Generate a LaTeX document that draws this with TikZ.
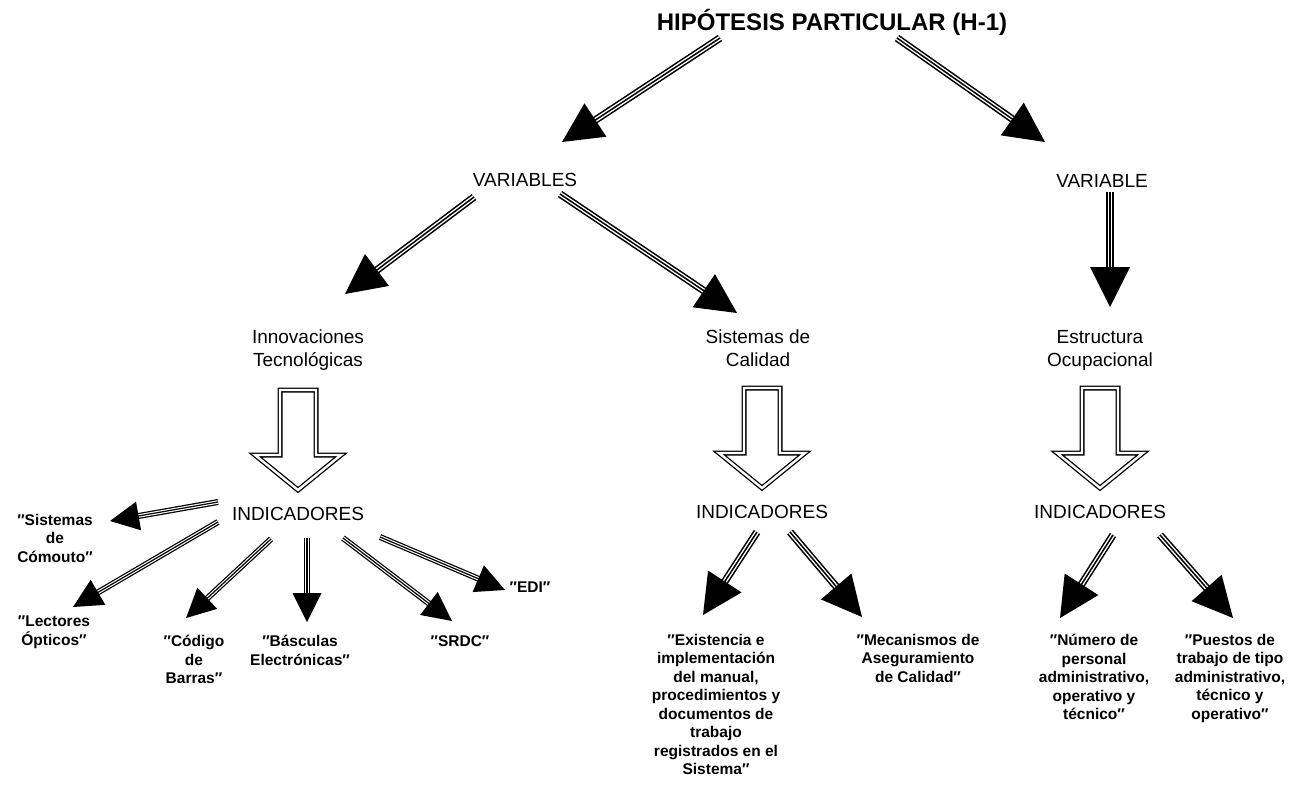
\documentclass[tikz,border=0pt]{standalone}
\usepackage{fontspec}
\setmainfont{Liberation Sans}
\usetikzlibrary{calc}

% triple-line arrow: start, tip, head size, shaft width
\newcommand\triarrow[4]{%
  \coordinate (hb) at ($(#2)!#3 pt!(#1)$);
  \coordinate (se) at ($(#2)!0.8*#3 pt!(#1)$);
  \draw[line width=#4 pt] (#1) -- (se);
  \draw[white, line width=0.58*#4 pt] (#1) -- (se);
  \draw[line width=0.2*#4 pt] (#1) -- (se);
  \fill (#2) -- ($(hb)!0.5*#3 pt!90:(#2)$) -- ($(hb)!0.5*#3 pt!-90:(#2)$) -- cycle;
}

% hollow block arrow pointing down, top centre given
\newcommand\blockarrow[1]{%
  \begin{scope}[shift={(#1)}]
    \draw[line width=1.3pt, double=white, double distance=2.4pt, line join=miter, fill=white]
      (-18,0) -- (18,0) -- (18,65) -- (43,65) -- (0,100) -- (-43,65) -- (-18,65) -- cycle;
  \end{scope}
}

\tikzset{
  lbl/.style={inner sep=0pt, align=center, font=\fontsize{19}{23}\selectfont},
  leaf/.style={inner sep=0pt, align=center, font=\bfseries\fontsize{15.5}{18.5}\selectfont},
  ttl/.style={inner sep=0pt, font=\bfseries\fontsize{24}{28}\selectfont}
}

\begin{document}
\begin{tikzpicture}[x=1pt, y=-1pt]
  \useasboundingbox[fill=white] (0,0) rectangle (1297,785);

  % headings
  \node[ttl] (title) at (832,22) {HIPÓTESIS PARTICULAR (H-1)};
  \node[lbl] (vars) at (525,180) {VARIABLES};
  \node[lbl] (var)  at (1102,181) {VARIABLE};

  \node[lbl] (innov) at (308,350) {Innovaciones\\Tecnológicas};
  \node[lbl] (sisc)  at (758,348) {Sistemas de\\Calidad};
  \node[lbl] (estr)  at (1100,350) {Estructura\\Ocupacional};

  \node[lbl] (ind1) at (298,514) {INDICADORES};
  \node[lbl] (ind2) at (762,512) {INDICADORES};
  \node[lbl] (ind3) at (1100,512) {INDICADORES};

  % indicators
  \node[leaf, anchor=north] (l1) at (55,514)  {″Sistemas\\de\\Cómouto″};
  \node[leaf, anchor=north] (l2) at (54,616)  {″Lectores\\Ópticos″};
  \node[leaf, anchor=north] (l3) at (194,635) {″Código\\de\\Barras″};
  \node[leaf, anchor=north] (l4) at (300,635) {″Básculas\\Electrónicas″};
  \node[leaf, anchor=north] (l5) at (460,635) {″SRDC″};
  \node[leaf, anchor=north] (l6) at (530,582) {″EDI″};

  \node[leaf, anchor=north] (m1) at (716,634) {″Existencia e\\implementación\\del manual,\\procedimientos y\\documentos de\\trabajo\\registrados en el\\Sistema″};
  \node[leaf, anchor=north] (m2) at (918,634) {″Mecanismos de\\Aseguramiento\\de Calidad″};

  \node[leaf, anchor=north] (r1) at (1094,634) {″Número de\\personal\\administrativo,\\operativo y\\técnico″};
  \node[leaf, anchor=north] (r2) at (1230,634) {″Puestos de\\trabajo de tipo\\administrativo,\\técnico y\\operativo″};

  % arrow end points
  \coordinate (t1s) at (720,38);   \coordinate (t1e) at (562,142);
  \coordinate (t2s) at (897,38);   \coordinate (t2e) at (1045,142);
  \coordinate (v1s) at (474,197);  \coordinate (v1e) at (345,294);
  \coordinate (v2s) at (560,194);  \coordinate (v2e) at (737,313);
  \coordinate (v3s) at (1110,192); \coordinate (v3e) at (1110,307);

  \coordinate (a1s) at (218,502);  \coordinate (a1e) at (110,521);
  \coordinate (a2s) at (218,522);  \coordinate (a2e) at (73,607);
  \coordinate (a3s) at (271,539);  \coordinate (a3e) at (186,618);
  \coordinate (a4s) at (307,538);  \coordinate (a4e) at (307,622);
  \coordinate (a5s) at (343,538);  \coordinate (a5e) at (452,621);
  \coordinate (a6s) at (380,537);  \coordinate (a6e) at (505,590);

  \coordinate (b1s) at (757,532);  \coordinate (b1e) at (703,615);
  \coordinate (b2s) at (790,532);  \coordinate (b2e) at (862,617);
  \coordinate (c1s) at (1113,535); \coordinate (c1e) at (1060,618);
  \coordinate (c2s) at (1160,535); \coordinate (c2e) at (1233,618);

  % hypothesis -> variables
  \triarrow{t1s}{t1e}{40}{7.5}
  \triarrow{t2s}{t2e}{40}{7.5}
  % variables -> variable names
  \triarrow{v1s}{v1e}{40}{7.5}
  \triarrow{v2s}{v2e}{40}{7.5}
  \triarrow{v3s}{v3e}{40}{7.5}

  % variable names -> indicators
  \blockarrow{298,390}
  \blockarrow{762,388}
  \blockarrow{1100,388}

  % indicators (technology)
  \triarrow{a1s}{a1e}{29}{6}
  \triarrow{a2s}{a2e}{29}{6}
  \triarrow{a3s}{a3e}{29}{6}
  \triarrow{a4s}{a4e}{29}{6}
  \triarrow{a5s}{a5e}{29}{6}
  \triarrow{a6s}{a6e}{29}{6}

  % indicators (quality, structure)
  \triarrow{b1s}{b1e}{40}{7.5}
  \triarrow{b2s}{b2e}{40}{7.5}
  \triarrow{c1s}{c1e}{40}{7.5}
  \triarrow{c2s}{c2e}{40}{7.5}
\end{tikzpicture}
\end{document}
